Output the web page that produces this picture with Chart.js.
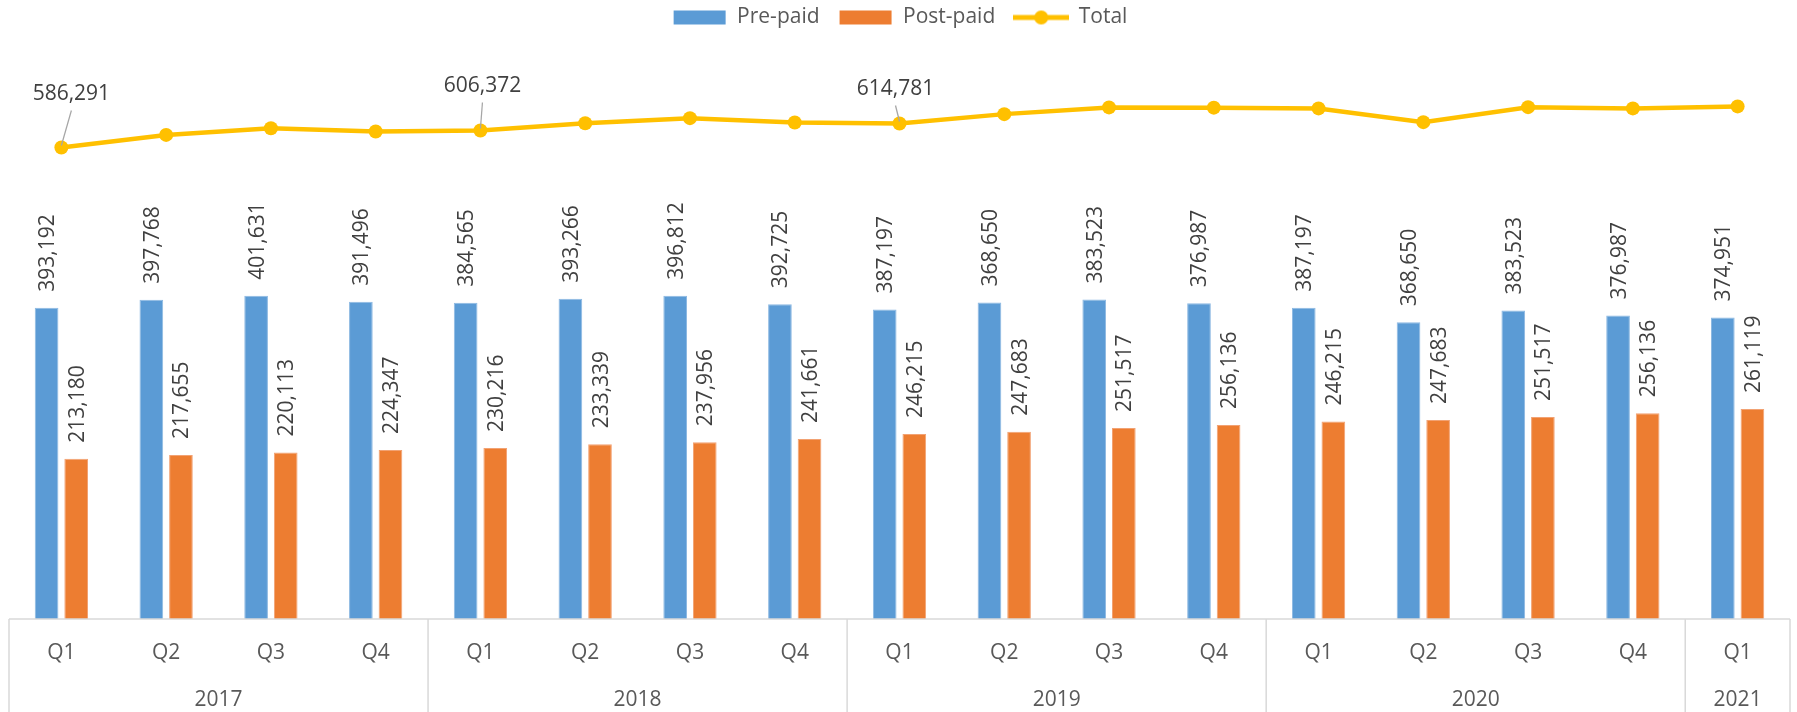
<!DOCTYPE html>
<html>
<head>
<meta charset="utf-8">
<script src="https://cdn.jsdelivr.net/npm/chart.js@4.4.1/dist/chart.umd.min.js"></script>
<style>
  html, body { margin: 0; padding: 0; background: #fff; }
  #wrap { width: 1797px; height: 712px; }
</style>
</head>
<body>
<div id="wrap"><canvas id="subsChart" width="1797" height="712"></canvas></div>
<script>
// --- DATA ---
const quarters = ['Q1', 'Q2', 'Q3', 'Q4', 'Q1', 'Q2', 'Q3', 'Q4', 'Q1', 'Q2', 'Q3', 'Q4', 'Q1', 'Q2', 'Q3', 'Q4', 'Q1'];
const years = ['2017', '2018', '2019', '2020', '2021'];
const quartersInYear = [4, 4, 4, 4, 1];

// bar heights as drawn in the picture
const prePaid = [393192, 402700, 407500, 400400, 399200, 403900, 407500, 397500, 391200, 399500, 403100, 398700, 393192, 376000, 390000, 384000, 381600];
const postPaid = [213180, 217600, 220700, 223600, 226000, 230300, 232700, 236700, 242700, 245400, 249900, 253400, 257700, 259400, 263000, 267300, 272500];
const total = [584400, 599400, 607400, 603500, 604700, 613400, 619400, 614200, 613000, 624200, 632200, 631900, 631000, 614600, 632500, 631000, 633400];

// numbers printed on the bars
const prePaidLabels = [393192, 397768, 401631, 391496, 384565, 393266, 396812, 392725, 387197, 368650, 383523, 376987, 387197, 368650, 383523, 376987, 374951];
const postPaidLabels = [213180, 217655, 220113, 224347, 230216, 233339, 237956, 241661, 246215, 247683, 251517, 256136, 246215, 247683, 251517, 256136, 261119];

// only these points of the Total line carry a label
const totalLabelIdx = [0, 4, 8];
const totalLabels = [586291, 606372, 614781];

// --- STYLE ---
const FONT = '"Open Sans", "Noto Sans", sans-serif';
const BLUE = '#5B9BD5';
const ORANGE = '#ED7D31';
const GOLD = '#FFC000';
const labelOffsets = [[10, -55], [2, -46], [-4, -36]];

const fmt = v => v.toLocaleString('en-US');

function swatch(color, isLine) {
    const c = document.createElement('canvas');
    c.width = 56; c.height = 16;
    const g = c.getContext('2d');
    g.fillStyle = color;
    if (isLine) {
        g.strokeStyle = color;
        g.lineWidth = 5;
        g.beginPath(); g.moveTo(0, 8); g.lineTo(56, 8); g.stroke();
        g.beginPath(); g.arc(28, 8, 7, 0, Math.PI * 2); g.fill();
    } else {
        g.fillRect(2, 1, 52, 14);
    }
    return c;
}
const swatches = [swatch(BLUE), swatch(ORANGE), swatch(GOLD, true)];

// bar values rotated above each bar, plus the few Total labels with leader lines
const valueLabels = {
    id: 'valueLabels',
    afterDatasetsDraw(chart) {
        const ctx = chart.ctx;
        ctx.save();
        ctx.font = `21px ${FONT}`;
        ctx.fillStyle = '#404040';
        [prePaidLabels, postPaidLabels].forEach((texts, di) => {
            chart.getDatasetMeta(di).data.forEach((bar, i) => {
                ctx.save();
                ctx.translate(bar.x + 7.5, bar.y - 16);
                ctx.rotate(-Math.PI / 2);
                ctx.textAlign = 'left';
                ctx.textBaseline = 'alphabetic';
                ctx.fillText(fmt(texts[i]), 0, 0);
                ctx.restore();
            });
        });

        const pts = chart.getDatasetMeta(2).data;
        totalLabelIdx.forEach((idx, k) => {
            const p = pts[idx];
            const cx = p.x + labelOffsets[k][0];
            const cy = p.y + labelOffsets[k][1];
            ctx.strokeStyle = '#A6A6A6';
            ctx.lineWidth = 1.25;
            ctx.beginPath();
            ctx.moveTo(cx, cy + 18);
            ctx.lineTo(p.x, p.y - 2);
            ctx.stroke();
            ctx.textAlign = 'center';
            ctx.textBaseline = 'alphabetic';
            ctx.fillText(fmt(totalLabels[k]), cx, cy + 7.5);
        });
        ctx.restore();
    }
};

// two level category axis (quarters / years) drawn as a box like the spreadsheet
const groupedAxis = {
    id: 'groupedAxis',
    afterDraw(chart) {
        const { ctx, chartArea, scales: { x } } = chart;
        const half = (x.getPixelForValue(1) - x.getPixelForValue(0)) / 2;
        const bottom = chart.height;
        ctx.save();
        ctx.strokeStyle = '#D9D9D9';
        ctx.lineWidth = 1.5;
        ctx.beginPath();
        ctx.moveTo(chartArea.left, chartArea.bottom);
        ctx.lineTo(chartArea.right, chartArea.bottom);
        let start = 0;
        const edges = [];
        quartersInYear.forEach(n => { edges.push(x.getPixelForValue(start) - half); start += n; });
        edges.push(x.getPixelForValue(start - 1) + half);
        edges.forEach(ex => { ctx.moveTo(ex, chartArea.bottom); ctx.lineTo(ex, bottom); });
        ctx.stroke();

        ctx.font = `21px ${FONT}`;
        ctx.fillStyle = '#595959';
        ctx.textAlign = 'center';
        ctx.textBaseline = 'alphabetic';
        quarters.forEach((q, i) => ctx.fillText(q, x.getPixelForValue(i), chartArea.bottom + 40));
        start = 0;
        years.forEach((y, k) => {
            const a = x.getPixelForValue(start);
            const b = x.getPixelForValue(start + quartersInYear[k] - 1);
            ctx.fillText(y, (a + b) / 2, chartArea.bottom + 87);
            start += quartersInYear[k];
        });
        ctx.restore();
    }
};

new Chart(document.getElementById('subsChart'), {
    type: 'bar',
    data: {
        labels: quarters,
        datasets: [
            {
                label: 'Pre-paid', data: prePaid, backgroundColor: BLUE,
                borderColor: '#8DB9E2', borderWidth: { top: 1, left: 1, right: 1, bottom: 0 },
                categoryPercentage: 0.565, barPercentage: 0.8
            },
            {
                label: 'Post-paid', data: postPaid, backgroundColor: ORANGE,
                borderColor: '#F2A273', borderWidth: { top: 1, left: 1, right: 1, bottom: 0 },
                categoryPercentage: 0.565, barPercentage: 0.8
            },
            {
                type: 'line', label: 'Total', data: total,
                borderColor: GOLD, backgroundColor: GOLD, borderWidth: 4.5,
                pointRadius: 7, pointHoverRadius: 7, pointBackgroundColor: GOLD, pointBorderWidth: 0,
                tension: 0
            }
        ]
    },
    options: {
        responsive: false,
        animation: false,
        layout: { padding: { left: 9, right: 6, top: -12, bottom: 93 } },
        scales: {
            x: { display: false },
            y: { display: false, min: 22000, max: 715000 }
        },
        plugins: {
            tooltip: { enabled: false },
            legend: {
                position: 'top',
                labels: {
                    font: { family: FONT, size: 21 },
                    color: '#595959',
                    usePointStyle: true,
                    pointStyleWidth: 54,
                    boxHeight: 14,
                    padding: 19,
                    generateLabels: chart => chart.data.datasets.map((ds, i) => ({
                        text: ds.label,
                        pointStyle: swatches[i],
                        fillStyle: 'transparent',
                        strokeStyle: 'transparent',
                        lineWidth: 0,
                        fontColor: '#595959',
                        hidden: false,
                        datasetIndex: i
                    }))
                }
            }
        }
    },
    plugins: [valueLabels, groupedAxis]
});
</script>
</body>
</html>
